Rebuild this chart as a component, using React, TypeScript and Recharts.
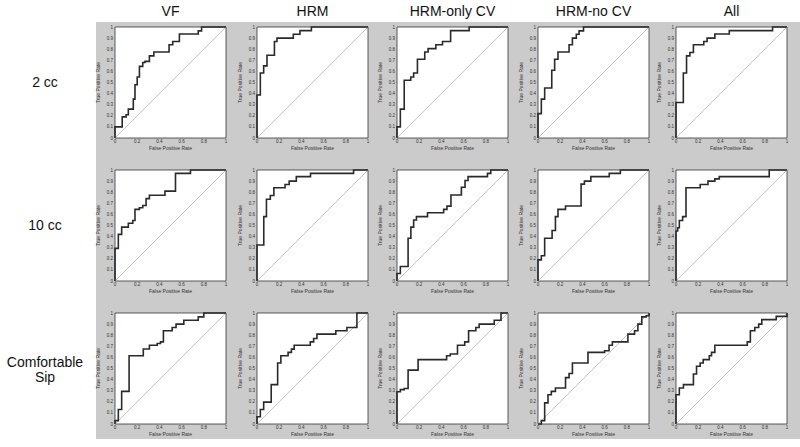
import React from 'react';
import { LineChart, Line, XAxis, YAxis, ReferenceArea, ReferenceLine } from 'recharts';

type Pt = [number, number];

const methods = ['VF', 'HRM', 'HRM-only CV', 'HRM-no CV', 'All'];
const volumes = ['2 cc', '10 cc', 'Comfortable Sip'];
const xTicks = [0, 0.2, 0.4, 0.6, 0.8, 1];
const yTicks = [0, 0.1, 0.2, 0.3, 0.4, 0.5, 0.6, 0.7, 0.8, 0.9, 1];

// ROC points: (fpr, tpr after the rise), drawn as steps
const vf2: Pt[] = [[0, 0], [0, 0.1], [0.065, 0.19], [0.1, 0.21], [0.12, 0.26], [0.165, 0.35], [0.18, 0.48], [0.2, 0.55], [0.22, 0.645], [0.25, 0.68], [0.27, 0.69], [0.31, 0.74], [0.35, 0.775], [0.487, 0.84], [0.52, 0.87], [0.58, 0.937], [0.75, 0.965], [0.78, 1], [1, 1]];
const hrm2: Pt[] = [[0, 0], [0, 0.387], [0.03, 0.585], [0.06, 0.65], [0.09, 0.745], [0.157, 0.87], [0.18, 0.9], [0.327, 0.935], [0.387, 0.967], [0.49, 1], [1, 1]];
const onlyCv2: Pt[] = [[0, 0], [0, 0.1], [0.03, 0.26], [0.065, 0.52], [0.124, 0.55], [0.15, 0.585], [0.184, 0.71], [0.25, 0.775], [0.28, 0.805], [0.35, 0.84], [0.41, 0.87], [0.483, 0.967], [0.65, 1], [1, 1]];
const noCv2: Pt[] = [[0, 0], [0, 0.22], [0.03, 0.35], [0.06, 0.45], [0.124, 0.61], [0.15, 0.71], [0.18, 0.775], [0.28, 0.84], [0.31, 0.9], [0.345, 0.935], [0.37, 0.965], [0.41, 1], [1, 1]];
const all2: Pt[] = [[0, 0], [0, 0.32], [0.066, 0.585], [0.095, 0.74], [0.125, 0.77], [0.157, 0.84], [0.25, 0.87], [0.28, 0.9], [0.35, 0.937], [0.48, 0.967], [0.87, 1], [1, 1]];

const vf10: Pt[] = [[0, 0], [0, 0.294], [0.03, 0.42], [0.06, 0.485], [0.12, 0.52], [0.16, 0.545], [0.18, 0.645], [0.22, 0.66], [0.25, 0.68], [0.28, 0.742], [0.31, 0.773], [0.45, 0.81], [0.545, 0.97], [0.68, 1], [1, 1]];
const hrm10: Pt[] = [[0, 0], [0, 0.324], [0.061, 0.58], [0.085, 0.736], [0.12, 0.77], [0.152, 0.84], [0.253, 0.87], [0.29, 0.9], [0.354, 0.94], [0.482, 0.97], [0.87, 1], [1, 1]];
const onlyCv10: Pt[] = [[0, 0], [0, 0.067], [0.03, 0.13], [0.1, 0.385], [0.125, 0.485], [0.15, 0.55], [0.175, 0.58], [0.275, 0.615], [0.42, 0.645], [0.45, 0.675], [0.486, 0.775], [0.58, 0.845], [0.613, 0.905], [0.64, 0.94], [0.815, 0.97], [0.845, 1], [1, 1]];
const noCv10: Pt[] = [[0, 0], [0, 0.19], [0.03, 0.227], [0.06, 0.385], [0.127, 0.455], [0.157, 0.58], [0.18, 0.645], [0.248, 0.676], [0.388, 0.873], [0.418, 0.9], [0.476, 0.94], [0.642, 0.97], [0.742, 1], [1, 1]];
const all10: Pt[] = [[0, 0], [0, 0.45], [0.015, 0.48], [0.03, 0.545], [0.06, 0.58], [0.09, 0.84], [0.218, 0.87], [0.288, 0.9], [0.35, 0.92], [0.39, 0.94], [0.84, 1], [1, 1]];

const vfSip: Pt[] = [[0, 0], [0, 0.03], [0.03, 0.13], [0.06, 0.294], [0.127, 0.615], [0.255, 0.676], [0.31, 0.71], [0.38, 0.725], [0.41, 0.74], [0.436, 0.84], [0.515, 0.87], [0.55, 0.9], [0.62, 0.935], [0.75, 0.965], [0.8, 1], [1, 1]];
const hrmSip: Pt[] = [[0, 0], [0, 0.065], [0.03, 0.13], [0.06, 0.197], [0.128, 0.355], [0.186, 0.55], [0.215, 0.615], [0.28, 0.645], [0.31, 0.675], [0.335, 0.71], [0.48, 0.74], [0.51, 0.77], [0.54, 0.81], [0.71, 0.84], [0.81, 0.87], [0.9, 1], [1, 1]];
const onlyCvSip: Pt[] = [[0, 0], [0, 0.29], [0.03, 0.31], [0.065, 0.32], [0.1, 0.485], [0.19, 0.58], [0.447, 0.615], [0.48, 0.63], [0.545, 0.71], [0.61, 0.74], [0.645, 0.84], [0.71, 0.87], [0.74, 0.9], [0.876, 0.935], [0.937, 1], [1, 1]];
const noCvSip: Pt[] = [[0, 0], [0.03, 0.03], [0.06, 0.19], [0.09, 0.264], [0.12, 0.294], [0.157, 0.324], [0.248, 0.418], [0.28, 0.455], [0.31, 0.55], [0.45, 0.645], [0.6, 0.66], [0.64, 0.71], [0.67, 0.74], [0.81, 0.81], [0.87, 0.84], [0.9, 0.9], [0.935, 0.965], [0.975, 0.975], [1, 1]];
const allSip: Pt[] = [[0, 0], [0, 0.264], [0.03, 0.324], [0.067, 0.355], [0.157, 0.45], [0.185, 0.52], [0.218, 0.55], [0.245, 0.58], [0.3, 0.615], [0.32, 0.645], [0.35, 0.71], [0.642, 0.74], [0.67, 0.84], [0.71, 0.87], [0.745, 0.9], [0.773, 0.94], [0.903, 0.97], [1, 0.97], [1, 1]];

const curves: Pt[][][] = [
  [vf2, hrm2, onlyCv2, noCv2, all2],
  [vf10, hrm10, onlyCv10, noCv10, all10],
  [vfSip, hrmSip, onlyCvSip, noCvSip, allSip],
];

const BOX_LEFT = [115, 257, 397, 538, 676];
const BOX_TOP = [27, 170, 313];
const BOX = 111;
const Y_W = 22;
const X_H = 13;
const FONT = 'Arial, "Liberation Sans", sans-serif';

const tickStyle = { fontSize: 4.5, fill: '#333', fontFamily: FONT };

const Panel = ({ points, left, top }: { points: Pt[]; left: number; top: number }) => {
  const data = points.map(([x, y]) => ({ x, y }));
  return (
    <div style={{ position: 'absolute', left: left - Y_W, top: top - 5 }}>
      <LineChart
        width={Y_W + BOX + 6}
        height={5 + BOX + X_H}
        data={data}
        margin={{ top: 5, right: 6, bottom: 0, left: 0 }}
      >
        <ReferenceArea x1={0} x2={1} y1={0} y2={1} fill="#ffffff" fillOpacity={1} stroke="#333" strokeWidth={0.8} />
        <ReferenceLine segment={[{ x: 0, y: 0 }, { x: 1, y: 1 }]} stroke="#c4c4c4" strokeWidth={1} />
        <XAxis
          type="number"
          dataKey="x"
          domain={[0, 1]}
          ticks={xTicks}
          axisLine={false}
          tickLine={false}
          tickSize={2}
          tickMargin={0}
          height={X_H}
          interval={0}
          tick={tickStyle}
          label={{ value: 'False Positive Rate', position: 'insideBottom', offset: 1, fontSize: 5, fill: '#333', fontFamily: FONT }}
        />
        <YAxis
          type="number"
          domain={[0, 1]}
          ticks={yTicks}
          axisLine={false}
          tickLine={false}
          tickSize={2}
          tickMargin={0}
          width={Y_W}
          interval={0}
          tick={tickStyle}
          label={{ value: 'True Positive Rate', angle: -90, position: 'insideLeft', offset: 5, fontSize: 5, fill: '#333', fontFamily: FONT, style: { textAnchor: 'middle' } }}
        />
        <Line
          dataKey="y"
          type="stepAfter"
          stroke="#2a2a2a"
          strokeWidth={1.6}
          dot={false}
          isAnimationActive={false}
        />
      </LineChart>
    </div>
  );
};

export default function App() {
  return (
    <div style={{ position: 'absolute', left: 0, top: 0, width: 800, height: 447, background: '#fff', overflow: 'hidden', fontFamily: FONT }}>
      <div style={{ position: 'absolute', left: 96, top: 22, width: 704, height: 417, background: '#cbcbcb' }} />
      {methods.map((m, i) => (
        <div key={m} style={{ position: 'absolute', left: BOX_LEFT[i] + BOX / 2 - 70, top: 3, width: 140, textAlign: 'center', fontSize: 14, color: '#111' }}>
          {m}
        </div>
      ))}
      {volumes.map((v, j) => (
        <div key={v} style={{ position: 'absolute', left: 0, width: 90, top: BOX_TOP[j] + BOX / 2 - (v.length > 6 ? 14 : 8), textAlign: 'center', fontSize: 14, lineHeight: '15px', color: '#111' }}>
          {v === 'Comfortable Sip' ? (<>Comfortable<br />Sip</>) : v}
        </div>
      ))}
      {curves.map((row, j) =>
        row.map((pts, i) => (
          <Panel key={`${j}-${i}`} points={pts} left={BOX_LEFT[i]} top={BOX_TOP[j]} />
        ))
      )}
    </div>
  );
}
